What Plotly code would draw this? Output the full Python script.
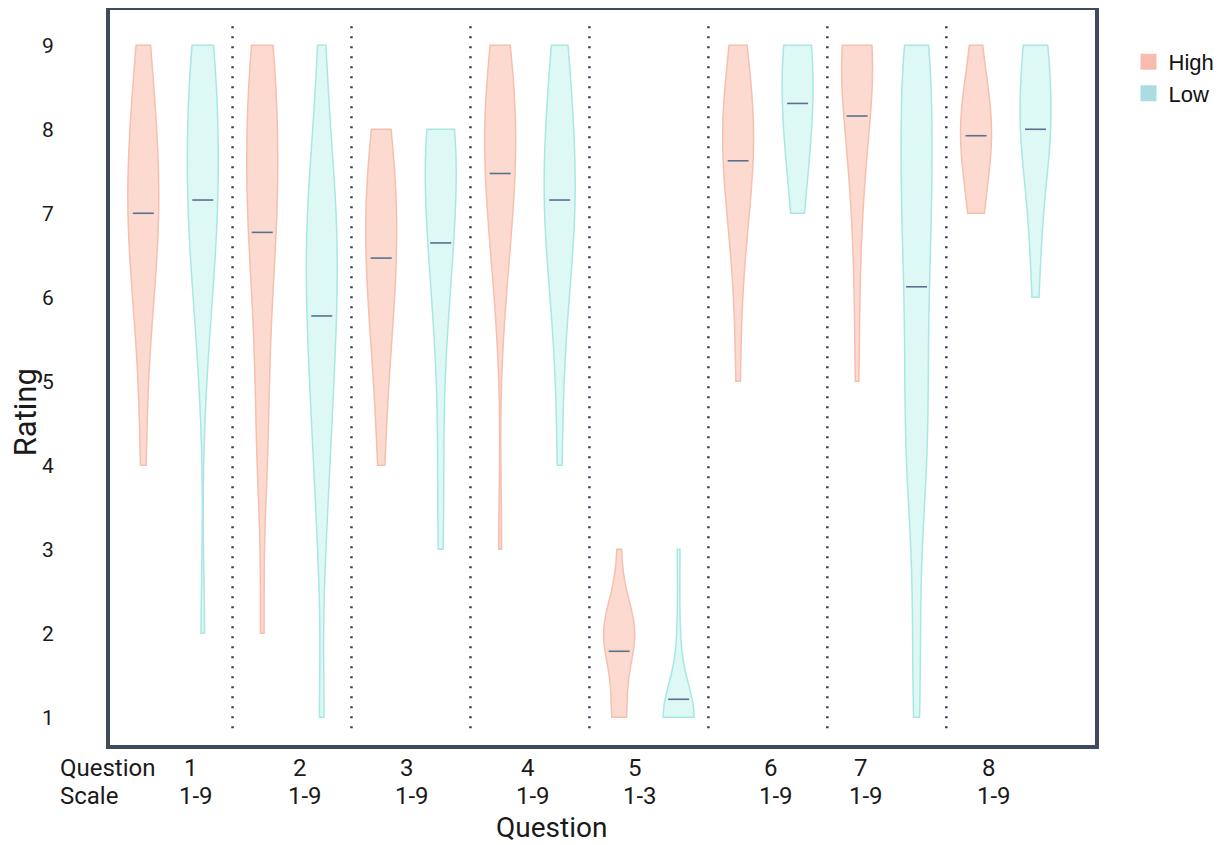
import plotly.graph_objects as go

# ---------------- data ----------------
questions = ["1", "2", "3", "4", "5", "6", "7", "8"]
scales = ["1-9", "1-9", "1-9", "1-9", "1-3", "1-9", "1-9", "1-9"]
ratings = [1, 2, 3, 4, 5, 6, 7, 8, 9]

# number of answers per rating value (1..9), one row per question
high_counts = [
    [0, 0, 0, 1, 1, 3, 5, 4, 2],
    [0, 1, 0, 2, 2, 3, 5, 5, 4],
    [0, 0, 0, 1, 2, 4, 5, 3, 0],
    [0, 0, 1, 0, 0, 2, 5, 7, 4],
    [4, 9, 1, 0, 0, 0, 0, 0, 0],
    [0, 0, 0, 0, 1, 1, 4, 7, 3],
    [0, 0, 0, 0, 1, 1, 2, 5, 10],
    [0, 0, 0, 0, 0, 0, 3, 8, 2],
]
low_counts = [
    [0, 1, 0, 0, 1, 3, 5, 5, 4],
    [1, 0, 1, 2, 3, 4, 4, 2, 1],
    [0, 0, 1, 1, 1, 3, 5, 6, 0],
    [0, 0, 0, 1, 1, 3, 6, 5, 3],
    [12, 1, 1, 0, 0, 0, 0, 0, 0],
    [0, 0, 0, 0, 0, 0, 2, 5, 6],
    [1, 1, 1, 3, 3, 3, 4, 4, 4],
    [0, 0, 0, 0, 0, 1, 2, 5, 4],
]
groups = ["High", "Low"]

# ---------------- styling ----------------
fill_colors = {"High": "rgba(252,205,192,0.75)", "Low": "rgba(212,246,243,0.8)"}
line_colors = {"High": "#f6bfb0", "Low": "#a9e8e2"}
legend_colors = {"High": "#f7bcae", "Low": "#aadde1"}
frame_color = "#3f4a5c"
mean_color = "#557391"
label_shift = [18, 8, -4, -2, -14, 3, -26, -17]
bandwidths = [0.75, 0.75, 0.7, 0.75, 0.4, 0.7, 0.75, 0.6]
text_color = "#1a1a1a"

fig = go.Figure()
for g, rows in zip(groups, [high_counts, low_counts]):
    for i, (q, row) in enumerate(zip(questions, rows)):
        ys = []
        for r, c in zip(ratings, row):
            ys += [r] * c
        fig.add_trace(go.Violin(
            x=[q] * len(ys), y=ys, name=f"{g} {q}", showlegend=False,
            offsetgroup=g, alignmentgroup="v", scalegroup=f"{g}{q}",
            spanmode="hard", scalemode="width", points=False,
            bandwidth=bandwidths[i],
            fillcolor=fill_colors[g],
            line=dict(color=line_colors[g], width=1.5),
            hoverinfo="skip",
        ))
        mean = sum(ys) / len(ys)
        fig.add_trace(go.Scatter(
            x=[q], y=[mean], mode="markers", showlegend=False,
            offsetgroup=g, alignmentgroup="m",
            marker=dict(symbol="line-ew", size=15, color=mean_color,
                        line=dict(color=mean_color, width=1.6)),
            hoverinfo="skip",
        ))
    fig.add_trace(go.Scatter(
        x=[None], y=[None], mode="markers", name=g,
        marker=dict(symbol="square", size=16, color=legend_colors[g]),
    ))

# dotted separators between questions
for i in range(len(questions) - 1):
    fig.add_shape(type="line", xref="x", yref="y",
                  x0=i + 0.5, x1=i + 0.5, y0=0.87, y1=9.3,
                  line=dict(color="#2f3d4f", width=2.5, dash="2px,8px"))

# bottom label rows
row1_y, row2_y = -0.031, -0.069
fig.add_annotation(text="Question", xref="paper", yref="paper", x=-0.053, y=row1_y,
                   xanchor="left", yanchor="middle", showarrow=False,
                   font=dict(size=24, color=text_color))
fig.add_annotation(text="Scale", xref="paper", yref="paper", x=-0.053, y=row2_y,
                   xanchor="left", yanchor="middle", showarrow=False,
                   font=dict(size=24, color=text_color))
for i, (q, s) in enumerate(zip(questions, scales)):
    fig.add_annotation(text=q, xref="x", yref="paper", x=i, y=row1_y,
                       xshift=label_shift[i], xanchor="center", yanchor="middle",
                       showarrow=False, font=dict(size=24, color=text_color))
    fig.add_annotation(text=s, xref="x", yref="paper", x=i, y=row2_y,
                       xshift=label_shift[i] + 5, xanchor="center", yanchor="middle",
                       showarrow=False, font=dict(size=24, color=text_color))
# axis titles
fig.add_annotation(text="Question", xref="paper", yref="paper", x=0.448, y=-0.112,
                   xanchor="center", yanchor="middle", showarrow=False,
                   font=dict(size=28, color=text_color))
fig.add_annotation(text="Rating", xref="paper", yref="paper", x=-0.086, y=0.453,
                   xanchor="center", yanchor="middle", textangle=-90, showarrow=False,
                   font=dict(size=31, color=text_color))

# the page body adds an 8px margin, so the figure is sized to fit the window
fig.update_layout(
    width=1214, height=837,
    margin=dict(l=102, r=122, t=2, b=100),
    paper_bgcolor="white", plot_bgcolor="white",
    font=dict(family="Roboto, Liberation Sans, sans-serif", color=text_color),
    violinmode="group", violingap=0, violingroupgap=0.48,
    scattermode="group", scattergap=0,
    showlegend=True,
    legend=dict(x=1.034, y=0.958, xanchor="left", yanchor="top",
                font=dict(family="Liberation Sans, Arial", size=22, color="#111"),
                tracegroupgap=0, itemsizing="trace", bgcolor="rgba(0,0,0,0)"),
    xaxis=dict(type="category", categoryorder="array", categoryarray=questions,
               range=[-0.53, 7.75], showticklabels=False, ticks="",
               showgrid=False, zeroline=False, automargin=False,
               showline=True, mirror=True, linecolor=frame_color, linewidth=4),
    yaxis=dict(range=[0.67, 9.42], tickmode="linear", tick0=1, dtick=1,
               showgrid=False, zeroline=False, ticks="", automargin=False,
               ticklabelstandoff=48,
               tickfont=dict(size=21, color=text_color),
               showline=True, mirror=True, linecolor=frame_color, linewidth=4),
)

fig.write_html("out.html")
